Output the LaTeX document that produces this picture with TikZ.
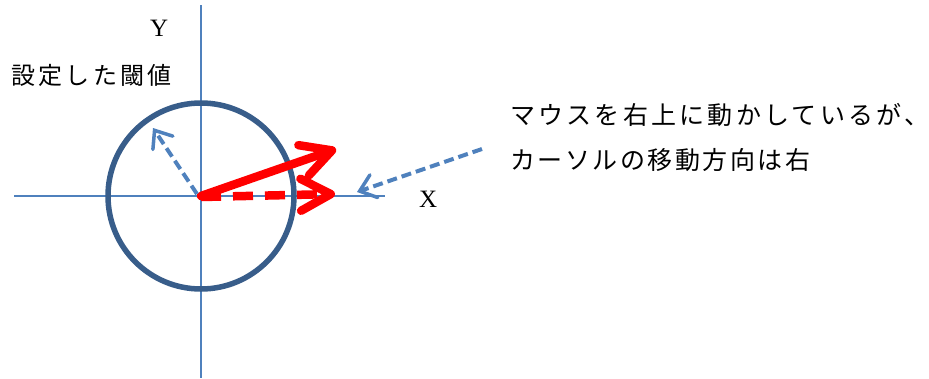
\documentclass[tikz,border=0pt]{standalone}
\usepackage{fontspec}
\setmainfont{Liberation Serif}
\newfontfamily\jpfont{Noto Sans CJK JP}
\usetikzlibrary{arrows.meta}
\definecolor{axisblue}{HTML}{4F81BD}
\definecolor{circblue}{HTML}{385D8A}
\definecolor{arrred}{HTML}{FF0000}
\begin{document}
\begin{tikzpicture}[x=1pt,y=-1pt,
  axis/.style={draw=axisblue,line width=1.8pt},
  redarrow/.style={draw=arrred,line width=8.5pt,line cap=round,line join=round,
    -{Straight Barb[length=30pt,width=32pt,line cap=round,line join=round]}},
  bluearrow/.style={draw=axisblue,line width=4pt,dash pattern=on 10pt off 5pt,
    -{Straight Barb[length=15pt,width=24pt,line width=3.5pt,line cap=round]}},
  lbl/.style={inner sep=0pt,anchor=base west}]
\useasboundingbox (0,0) rectangle (929,378);
\coordinate (O) at (201,196);
\coordinate (ytop) at (201,5);
\coordinate (ybot) at (201,378);
\coordinate (xl) at (14,196);
\coordinate (xr) at (385,196);
\draw[axis] (ytop) -- (ybot);
\draw[axis] (xl) -- (xr);
\node[draw=circblue,line width=5.5pt,circle,minimum size=186pt,inner sep=0pt] (circ) at (O) {};
\coordinate (tipS) at (336,149);
\coordinate (tipD) at (335,194);
\coordinate (thr) at (153,128);
\coordinate (thrS) at (197,194);
\draw[redarrow] (O) -- (tipS);
\draw[redarrow,dash pattern=on 20pt off 12pt,line cap=butt] ([yshift=-1pt]O) -- (tipD);
\draw[bluearrow] (thrS) -- (thr);
\node[lbl,font=\fontsize{25}{30}\selectfont] (Y) at (150,36) {Y};
\node[lbl,font=\fontsize{25}{30}\selectfont] (X) at (419,207) {X};
\node[lbl,font=\jpfont\fontsize{24}{30}\selectfont\addfontfeature{LetterSpace=14}] (thrlbl) at (11,84) {設定した閾値};
\node[lbl,font=\jpfont\fontsize{25}{30}\selectfont\addfontfeature{LetterSpace=13}] (desc) at (510,124) {マウスを右上に動かしているが、};
\node[lbl,font=\jpfont\fontsize{25}{30}\selectfont\addfontfeature{LetterSpace=10}] (desc2) at (510,169) {カーソルの移動方向は右};
\coordinate (ptrS) at (482,149);
\coordinate (ptrT) at (357,192);
\draw[bluearrow] (ptrS) -- (ptrT);
\end{tikzpicture}
\end{document}
